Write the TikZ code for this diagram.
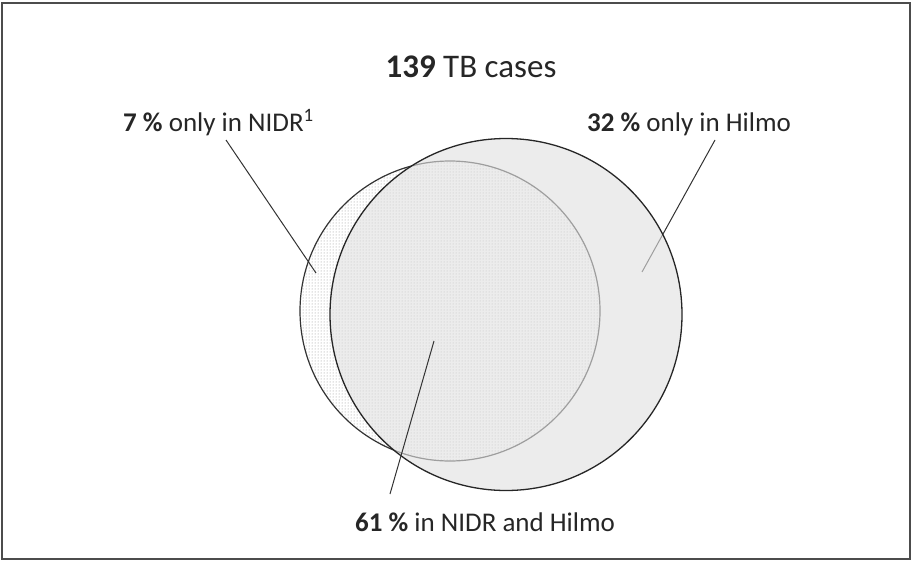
\documentclass[tikz,border=0pt]{standalone}
\usepackage{fontspec}
\setmainfont{Carlito}
\usetikzlibrary{patterns}
\begin{document}
\begin{tikzpicture}[x=1pt,y=-1pt,
  lbl/.style={font=\fontsize{27}{31}\selectfont, inner sep=0pt, text=black!85},
  ttl/.style={font=\fontsize{33}{38}\selectfont, inner sep=0pt, text=black!85},
  leader/.style={draw=black!80, line width=1pt},
  setnidr/.style={circle, inner sep=0pt, minimum size=300pt, draw=black!80, line width=1.2pt, pattern=dots, pattern color=black!45},
  sethilmo/.style={circle, inner sep=0pt, minimum size=352pt, draw=black!85, line width=1.3pt, fill=black!12, fill opacity=0.62, draw opacity=1}]
\useasboundingbox (0,0) rectangle (912,562);
\draw[black!70, line width=2pt] (2,3) rectangle (910,559);

% title and labels
\node[ttl, anchor=base] (title) at (471,77) {\textbf{139} TB cases};
\node[lbl, anchor=base west] (l7) at (123,131) {\textbf{7 \%} only in NIDR\textsuperscript{1}};
\node[lbl, anchor=base west] (l32) at (587,131) {\textbf{32 \%} only in Hilmo};
\node[lbl, anchor=base west] (l61) at (355,531) {\textbf{61 \%} in NIDR and Hilmo};

% leader end points
\coordinate (a1) at (226,140);
\coordinate (a2) at (316,273);
\coordinate (b1) at (715,140);
\coordinate (b2) at (642,272);
\coordinate (c1) at (434,341);
\coordinate (c2) at (390,494);

% NIDR circle
\node[setnidr] (nidr) at (450,311) {};
\draw[leader] (a1) -- (a2);
\draw[leader] (b1) -- (b2);
% Hilmo circle
\node[sethilmo] (hilmo) at (506,314.5) {};
\draw[leader] (c1) -- (c2);
\end{tikzpicture}
\end{document}
